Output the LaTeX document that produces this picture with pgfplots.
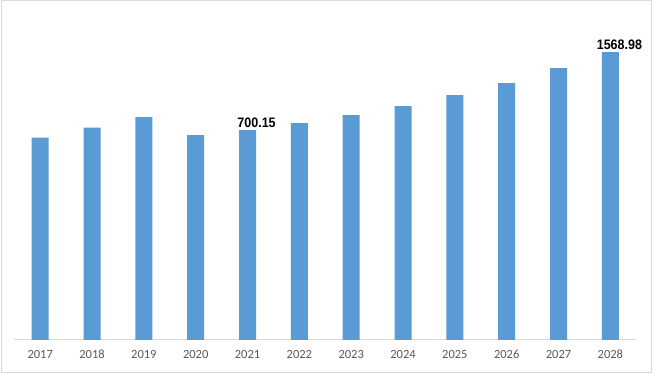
\documentclass[border=0pt]{standalone}
\usepackage{pgfplots}
\pgfplotsset{compat=1.18}
\usepackage{pgfplotstable}
\usepackage{fontspec}
\setmainfont{Carlito}
\newfontfamily\labfont{Liberation Sans}
\definecolor{barblue}{HTML}{5B9BD5}
\definecolor{tickgray}{HTML}{595959}
\definecolor{linegray}{HTML}{D9D9D9}

% Market value by year (labels shown for 2021 and 2028)
\pgfplotstableread{
idx year value
0 2017 614.4
1 2018 725.8
2 2019 845.0
3 2020 644.5
4 2021 700.15
5 2022 778.1
6 2023 867.2
7 2024 967.5
8 2025 1090.0
9 2026 1223.7
10 2027 1390.8
11 2028 1568.98
}\datatable

\begin{document}
\begin{tikzpicture}[x=1pt,y=1pt]
\fill[white] (0,0) rectangle (660,377);
\draw[linegray, line width=1pt] (1.5,5) rectangle (651.5,376);
\begin{axis}[
  at={(14.3pt,37pt)}, anchor=south west,
  scale only axis, width=622pt, height=320pt,
  xmin=-0.5, xmax=11.5, ymin=0, ymax=3565,
  axis y line=none, axis x line=bottom,
  x axis line style={-, draw=linegray, line width=1pt},
  xtick={0,...,11},
  xticklabels={2017,2018,2019,2020,2021,2022,2023,2024,2025,2026,2027,2028},
  major tick length=0pt,
  xticklabel style={font=\fontsize{12.5}{14}\selectfont, text=tickgray, yshift=-6.5pt},
  clip=false,
]
\addplot[ybar, bar width=17pt, fill=barblue, draw=none, bar shift=0pt,
  y filter/.expression={y+1639}] table[x=idx, y=value] {\datatable};
\addplot[draw=none, mark=none, y filter/.expression={y+1639},
  nodes near coords, point meta=explicit symbolic,
  nodes near coords style={font=\labfont\bfseries\fontsize{12.5}{14}\selectfont, text=black, anchor=south, inner sep=1pt, xshift=9pt, yshift=1.5pt, yscale=1.1}]
  coordinates {(4,700.15)[700.15] (11,1568.98)[1568.98]};
\end{axis}
\end{tikzpicture}
\end{document}
